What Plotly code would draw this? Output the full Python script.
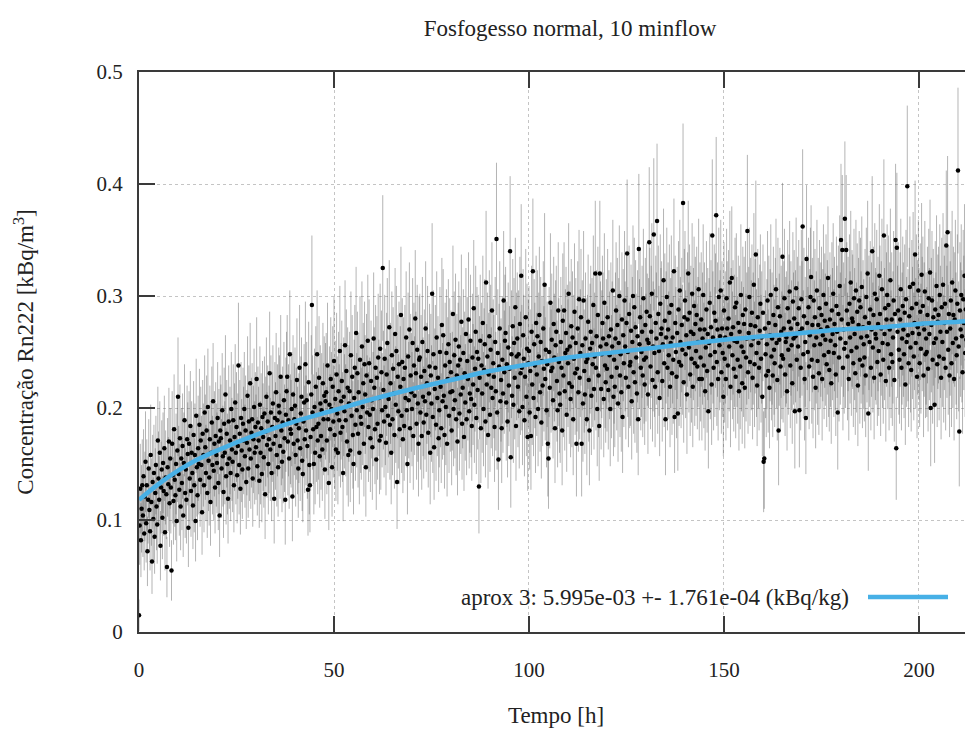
import plotly.graph_objects as go

# Rn-222 concentration, one reading every 10 minutes (values in Bq/m3, converted to kBq/m3 below)
STEP_H = 1.0 / 6.0

conc_day1 = [15,95,128,82,110,131, 104,139,88,121,152,97, 131,72,118,146,109,90, 158,116,63,134,101,142,
             85,124,149,112,96,171, 137,118,160,77,129,145, 102,151,126,164,89,138, 123,58,147,132,170,115,
             155,129,55,168,140,117, 181,136,122,150,99,162, 210,141,127,173,112,155, 133,166,104,151,189,124,
             145,118,172,159,93,168, 137,184,126,160,142,113, 176,131,158,99,193,147, 122,164,150,185,136,171,
             149,107,177,158,131,196, 165,142,180,124,201,153, 138,172,116,160,187,149, 206,144,168,129,175,158,
             151,191,133,170,104,180, 173,146,198,157,125,186, 160,212,139,177,150,119, 188,155,171,142,199,163]
err_day1 = [14,35,40,33,39,41, 37,42,33,40,45,35, 41,31,39,44,38,35, 45,39,29,42,37,43,
            33,40,44,39,35,48, 42,39,46,31,41,44, 37,45,40,47,34,42, 40,27,44,42,48,39,
            45,41,27,47,43,39, 49,42,40,45,36,46, 53,43,41,48,39,45, 42,47,37,45,50,40,
            44,39,48,46,35,47, 42,49,41,46,43,39, 48,42,46,36,51,44, 40,47,45,50,42,48,
            44,38,48,46,42,51, 47,43,49,40,52,45, 43,48,39,46,50,44, 52,44,47,41,48,46,
            45,50,42,47,37,49, 48,44,51,45,41,50, 46,53,43,48,45,40, 50,45,48,43,51,46]

conc_day2 = [152,189,131,174,205,160, 183,140,166,238,149,177, 128,191,162,145,186,171, 199,157,180,134,169,211,
             146,188,163,222,155,178, 190,137,172,201,160,183, 165,226,148,187,171,135, 203,160,182,141,192,174,
             156,195,123,179,210,167, 188,150,172,231,163,196, 142,183,204,168,119,191, 175,214,158,189,147,202,
             196,166,228,180,152,187, 161,207,173,118,194,215, 228,170,189,155,248,181, 177,199,121,212,168,190,
             202,158,186,225,171,146, 182,236,164,195,210,153, 141,188,205,172,239,180, 207,166,127,223,149,131,
             174,212,292,196,181,150, 201,160,219,183,248,171, 186,227,157,204,175,198, 163,222,190,211,145,206]
err_day2 = [45,50,42,48,52,46, 49,43,47,56,44,48, 41,50,46,44,50,48, 51,46,49,42,47,53,
            44,50,46,54,45,49, 50,43,48,52,46,49, 47,55,44,50,48,42, 52,46,49,43,50,48,
            45,51,40,49,53,47, 50,45,48,55,46,51, 43,49,52,47,40,50, 48,53,46,50,44,52,
            51,47,55,49,45,50, 46,52,48,40,51,53, 55,48,50,45,57,49, 48,51,40,53,47,50,
            52,46,50,55,48,44, 49,56,47,51,53,45, 43,50,52,48,56,49, 52,47,41,54,44,42,
            48,53,62,51,49,45, 52,46,54,49,57,48, 50,55,46,52,48,51, 46,54,50,53,44,52]

conc_day3 = [214,171,238,190,133,203, 181,226,199,147,219,188, 242,176,208,163,230,195, 160,215,189,251,178,206,
             224,183,142,210,197,256, 189,233,170,218,158,204, 215,162,247,193,228,176, 150,209,236,185,267,198,
             231,177,214,160,243,192, 186,255,201,222,168,239, 212,147,229,196,260,183, 240,194,173,224,207,165,
             199,262,218,181,236,154, 227,186,245,209,171,253, 175,232,198,325,216,188, 244,201,169,230,258,193,
             208,272,185,222,160,247, 190,235,213,176,266,203, 251,134,228,197,239,181, 219,283,193,241,172,226,
             184,236,209,263,198,150, 246,207,270,182,229,214, 199,258,175,238,211,280, 231,186,252,204,168,243]
err_day3 = [53,48,56,50,42,52, 49,55,51,44,54,50, 57,48,52,46,55,51, 46,53,50,58,49,52,
            54,49,43,53,51,58, 50,55,48,54,46,52, 53,46,57,51,55,48, 45,52,56,50,59,51,
            55,48,53,46,57,50, 50,58,52,54,47,56, 53,44,55,51,59,49, 57,51,48,54,52,47,
            51,59,54,49,56,45, 55,50,57,52,48,58, 48,55,51,65,53,50, 57,52,47,55,58,51,
            52,60,49,54,46,57, 50,55,53,48,59,52, 58,42,55,51,56,49, 54,61,51,57,48,55,
            49,56,52,59,51,45, 57,52,60,49,55,53, 51,58,48,56,53,61, 55,50,58,52,47,57]

conc_day4 = [245,196,228,175,259,210, 187,233,206,271,194,222, 251,178,213,237,160,229, 204,302,192,248,165,217,
             236,185,263,209,227,173, 198,250,219,182,274,206, 265,211,176,238,201,249, 168,226,257,193,241,214,
             232,180,215,284,199,247, 207,261,190,229,170,238, 255,195,243,212,277,186, 218,249,174,231,205,266,
             190,242,226,279,197,213, 260,208,184,245,221,289, 203,235,268,191,250,216, 244,130,227,260,182,238,
             213,276,199,234,257,188, 312,221,246,176,230,264, 194,252,218,287,209,240, 228,183,259,215,351,196,
             249,154,237,271,206,225, 182,243,213,296,232,260, 267,205,239,188,254,220, 235,340,156,248,211,273]
err_day4 = [57,51,55,48,58,53, 50,55,52,60,51,54, 58,49,53,56,46,55, 52,63,50,57,47,54,
            56,50,59,52,55,48, 51,58,54,49,60,52, 59,53,48,56,52,57, 47,55,58,51,57,53,
            55,49,53,61,51,57, 52,59,50,55,48,56, 58,51,57,53,60,50, 54,57,48,55,52,59,
            50,57,55,60,51,53, 59,52,49,57,54,61, 52,56,59,50,58,53, 57,42,55,59,49,56,
            53,60,51,55,58,50, 64,54,57,48,55,59, 51,58,54,61,52,57, 55,49,58,53,68,51,
            57,45,56,60,52,55, 49,57,53,62,55,59, 59,52,56,50,58,54, 56,67,45,57,53,60]

conc_day5 = [203,258,227,290,184,246, 262,219,248,197,275,231, 318,236,201,265,244,189, 228,281,210,253,174,240,
             251,196,233,175,268,221, 322,209,257,238,192,276, 230,264,199,246,283,214, 259,187,242,220,271,235,
             310,226,252,198,239,168, 155,250,218,294,233,261, 236,207,275,245,182,256, 268,224,198,287,241,213,
             203,259,236,180,278,229, 287,215,249,267,194,252, 240,302,222,255,208,273, 219,263,190,244,286,231,
             258,168,235,271,214,297, 227,249,281,168,256,204, 296,233,212,262,241,190, 244,277,225,180,253,268,
             211,258,239,292,217,246, 320,236,264,199,283,229, 184,320,255,217,248,276, 262,208,294,238,223,257]
err_day5 = [52,58,55,62,49,57, 59,54,57,51,60,55, 64,56,52,59,57,50, 55,61,53,58,48,57,
            58,51,55,48,59,54, 65,52,58,56,50,60, 55,59,51,57,61,53, 58,50,57,54,60,56,
            64,55,58,51,56,47, 45,58,54,62,55,59, 56,52,60,57,49,58, 59,54,51,61,57,53,
            52,58,56,49,60,55, 61,53,57,59,51,58, 57,63,54,58,52,60, 54,59,50,57,61,55,
            58,47,56,60,53,62, 55,57,61,47,58,52, 62,55,53,59,57,50, 57,60,55,49,58,59,
            53,58,56,62,54,57, 65,56,59,51,61,55, 49,65,58,54,57,60, 59,52,62,56,54,58]

conc_day6 = [235,281,216,264,247,199, 270,228,255,305,210,243, 219,262,287,236,274,204, 258,300,229,248,214,279,
             192,265,240,296,255,227, 276,338,250,219,284,238, 241,269,206,259,300,232, 290,223,272,245,213,264,
             190,342,257,281,236,250, 268,229,298,243,221,274, 245,286,261,212,258,348, 282,237,268,302,225,255,
             355,249,219,276,262,367, 232,284,251,209,293,266, 271,224,257,314,240,278, 190,263,299,236,270,247,
             285,219,258,292,231,263, 243,322,192,276,250,228, 267,195,288,241,305,259, 238,274,252,383,223,281,
             296,248,265,212,279,320, 254,285,230,268,244,302, 219,266,291,240,275,251, 283,237,259,306,226,270]
err_day6 = [56,61,53,59,57,51, 60,55,58,63,53,57, 54,59,61,56,60,52, 58,63,55,57,53,60,
            50,59,57,62,58,55, 60,66,58,54,61,56, 57,59,52,58,63,55, 62,54,60,57,53,59,
            50,67,58,61,56,58, 59,55,62,57,54,60, 57,61,59,53,58,67, 61,56,59,63,55,58,
            68,57,54,60,59,69, 55,61,58,52,62,59, 60,54,58,64,57,60, 50,59,62,56,60,57,
            61,54,58,62,55,59, 57,65,50,60,58,55, 59,51,61,57,63,58, 56,60,58,71,54,61,
            62,57,59,53,60,65, 58,61,55,59,57,63, 54,59,62,56,60,58, 61,56,58,63,55,60]

conc_day7 = [245,279,226,262,301,238, 270,215,254,288,233,266, 197,258,294,247,272,221, 354,263,236,285,250,278,
             372,241,270,226,299,256, 264,305,232,271,249,210, 287,244,263,226,298,271, 238,280,255,312,219,266,
             316,247,272,235,260,290, 228,294,259,243,276,215, 268,237,301,255,222,283, 250,275,218,288,245,262,
             358,232,267,299,241,274, 256,285,227,262,310,239, 273,337,249,220,281,258, 236,269,293,244,263,210,
             285,152,155,271,248,229, 257,296,233,276,218,265, 301,246,262,229,283,252, 240,274,306,258,225,290,
             180,261,282,237,268,247, 335,244,271,298,230,259, 263,215,289,252,277,304, 238,271,256,222,295,262]
err_day7 = [57,60,55,59,63,56, 60,53,58,61,55,59, 51,58,62,57,60,54, 68,59,56,61,58,60,
            70,57,60,55,62,58, 59,63,55,60,57,53, 61,57,59,55,62,60, 56,61,58,64,54,59,
            64,57,60,56,59,62, 55,62,58,57,60,53, 59,56,63,58,54,61, 58,60,54,61,57,59,
            68,55,59,62,57,60, 58,61,55,59,64,56, 60,66,57,54,61,58, 56,59,62,57,59,53,
            61,45,45,60,57,55, 58,62,55,60,54,59, 63,57,59,55,61,58, 57,60,63,58,54,62,
            49,59,61,56,59,57, 66,57,60,62,55,58, 59,53,61,58,60,63, 56,60,58,54,62,59]

conc_day8 = [280,197,264,307,243,275, 255,289,198,268,236,297, 271,362,248,282,226,259, 191,333,276,250,290,237,
             265,299,317,243,274,228, 296,256,281,218,263,305, 242,274,231,289,257,270, 283,226,265,301,247,278,
             261,293,239,272,316,250, 234,279,260,222,287,266, 302,249,275,256,230,291, 268,196,284,245,309,262,
             350,279,341,236,270,253, 369,258,341,287,246,275, 226,293,263,312,251,280, 277,240,298,266,231,305,
             254,286,220,274,296,243, 290,263,308,238,272,257, 245,281,229,299,264,320, 195,276,259,288,236,270,
             340,254,283,227,302,266, 262,297,241,275,251,318, 284,230,271,306,258,243, 354,266,289,224,279,301]
err_day8 = [61,51,59,63,57,60, 58,61,51,59,56,62, 60,69,57,61,55,58, 50,66,60,58,62,56,
            59,62,64,57,60,55, 62,58,61,54,59,63, 57,60,55,61,58,60, 61,55,59,63,57,60,
            59,62,56,60,64,58, 55,60,59,54,61,59, 63,57,60,58,55,62, 59,51,61,57,63,59,
            68,60,67,56,60,58, 69,58,67,61,57,60, 55,62,59,64,58,61, 60,57,62,59,55,63,
            58,61,54,60,62,57, 62,59,63,56,60,58, 57,61,55,62,59,65, 51,60,58,61,56,60,
            67,58,61,55,63,59, 59,62,57,60,58,64, 61,55,60,63,58,57, 68,59,62,54,60,63]

conc_day9 = [257,292,236,270,314,248, 279,241,263,296,225,284, 350,164,343,268,287,252, 243,279,306,236,262,291,
             270,248,285,221,297,259, 398,265,240,282,308,254, 234,289,267,311,246,276, 337,258,293,228,272,305,
             266,240,286,253,319,275, 291,229,270,304,248,262, 250,283,235,298,266,321, 200,274,296,243,281,258,
             203,288,262,309,239,277, 283,246,301,268,227,290, 259,310,244,276,293,236, 345,268,357,252,284,229,
             271,296,240,312,258,283, 226,279,305,262,247,293, 412,255,179,287,270,301, 264,232,297,276,318,249,
             288,261,243,305,270,236, 276,299,252,284,231,267]
err_day9 = [58,62,56,60,64,57, 60,57,59,62,55,61, 68,46,67,59,61,58, 57,60,63,56,59,62,
            60,57,61,54,62,58, 72,59,57,61,63,58, 55,61,59,64,57,60, 66,58,62,55,60,63,
            59,57,61,58,64,60, 62,55,60,63,57,59, 58,61,56,62,59,65, 52,60,62,57,61,58,
            52,61,59,63,56,60, 61,57,63,59,55,62, 58,64,57,60,62,56, 67,59,68,58,61,55,
            60,62,57,64,58,61, 55,60,63,59,57,62, 74,58,49,61,60,63, 59,55,62,60,64,57,
            61,59,57,63,60,56, 60,62,58,61,55,59]

# Fitted curve ("aprox 3")
fit_t = [0, 5, 10, 15, 20, 30, 40, 50, 60, 70, 80, 90, 100, 110, 120, 130, 140, 150, 160, 170, 180, 190, 200, 210, 214]
fit_c = [0.118, 0.132, 0.144, 0.154, 0.162, 0.176, 0.188, 0.198, 0.208, 0.217, 0.225, 0.233, 0.239, 0.245,
         0.249, 0.253, 0.257, 0.261, 0.264, 0.267, 0.270, 0.272, 0.275, 0.277, 0.278]

x_ticks = [0, 50, 100, 150, 200]
y_ticks = [0, 0.1, 0.2, 0.3, 0.4, 0.5]
y_ticktext = ["0", "0.1", "0.2", "0.3", "0.4", "0.5"]

title_text = "Fosfogesso normal, 10 minflow"
legend_text = "aprox 3: 5.995e-03 +- 1.761e-04 (kBq/kg)"

conc_all = conc_day1 + conc_day2 + conc_day3 + conc_day4 + conc_day5 + conc_day6 + conc_day7 + conc_day8 + conc_day9
err_all = err_day1 + err_day2 + err_day3 + err_day4 + err_day5 + err_day6 + err_day7 + err_day8 + err_day9
n = min(len(conc_all), len(err_all))
t_vals = [i * STEP_H for i in range(n)]
c_vals = [v / 1000.0 for v in conc_all[:n]]
e_vals = [v / 1000.0 for v in err_all[:n]]

SERIF = "Liberation Serif, Times New Roman, serif"
FS_TICK = 21
FS_TEXT = 23
BLUE = "#47b0e6"
TXT = "#222"

# page body has an 8 px margin, so the figure is offset by 8 px
W, H = 965, 723
ML, MT, MB = 131, 64, 99
PW = W - ML          # plot width in px
PH = H - MT - MB     # plot height in px

fig = go.Figure()
fig.add_trace(go.Scatter(
    x=t_vals, y=c_vals, mode="markers",
    marker=dict(color="black", size=4.5, line=dict(width=0)),
    error_y=dict(type="data", array=e_vals, visible=True, color="rgba(85,85,85,0.44)",
                 thickness=1, width=0),
    showlegend=False, hoverinfo="x+y",
))
fig.add_trace(go.Scatter(
    x=fit_t, y=fit_c, mode="lines", line=dict(color=BLUE, width=4.5, shape="spline"),
    name=legend_text, showlegend=False,
))

axis_common = dict(
    showgrid=True, gridcolor="#c4c4c4", griddash="dot", gridwidth=1,
    showline=True, linecolor="#3a3a3a", linewidth=2,
    ticks="inside", ticklen=16, tickwidth=2, tickcolor="#3a3a3a",
    zeroline=False, tickfont=dict(family=SERIF, size=FS_TICK, color=TXT),
)

leg_y = 35 / PH
fig.update_layout(
    width=W, height=H,
    margin=dict(l=ML, r=0, t=MT, b=MB),
    paper_bgcolor="white", plot_bgcolor="white",
    title=dict(text=title_text, x=562 / W, xanchor="center", y=1 - 20 / H, yanchor="middle",
               xref="container", yref="container",
               font=dict(family=SERIF, size=FS_TEXT, color=TXT)),
    xaxis=dict(range=[0, 213.85], tickvals=x_ticks, mirror="ticks", ticklabelstandoff=18,
               title=dict(text="Tempo [h]", font=dict(family=SERIF, size=FS_TEXT, color=TXT), standoff=26),
               **axis_common),
    yaxis=dict(range=[0, 0.5], tickvals=y_ticks, ticktext=y_ticktext, mirror=False, ticklabelstandoff=10,
               title=dict(text="Concentração Rn222 [kBq/m<sup>3</sup>]",
                          font=dict(family=SERIF, size=FS_TEXT, color=TXT), standoff=56),
               **axis_common),
    showlegend=False,
    annotations=[dict(text=legend_text, xref="paper", yref="paper",
                      x=(843 - ML) / PW, y=leg_y, xanchor="right", yanchor="middle",
                      showarrow=False, font=dict(family=SERIF, size=FS_TEXT, color=TXT))],
    shapes=[dict(type="line", xref="paper", yref="paper",
                 x0=(860 - ML) / PW, x1=(940 - ML) / PW,
                 y0=leg_y, y1=leg_y,
                 line=dict(color=BLUE, width=4.5))],
)

fig.write_html("out.html")
